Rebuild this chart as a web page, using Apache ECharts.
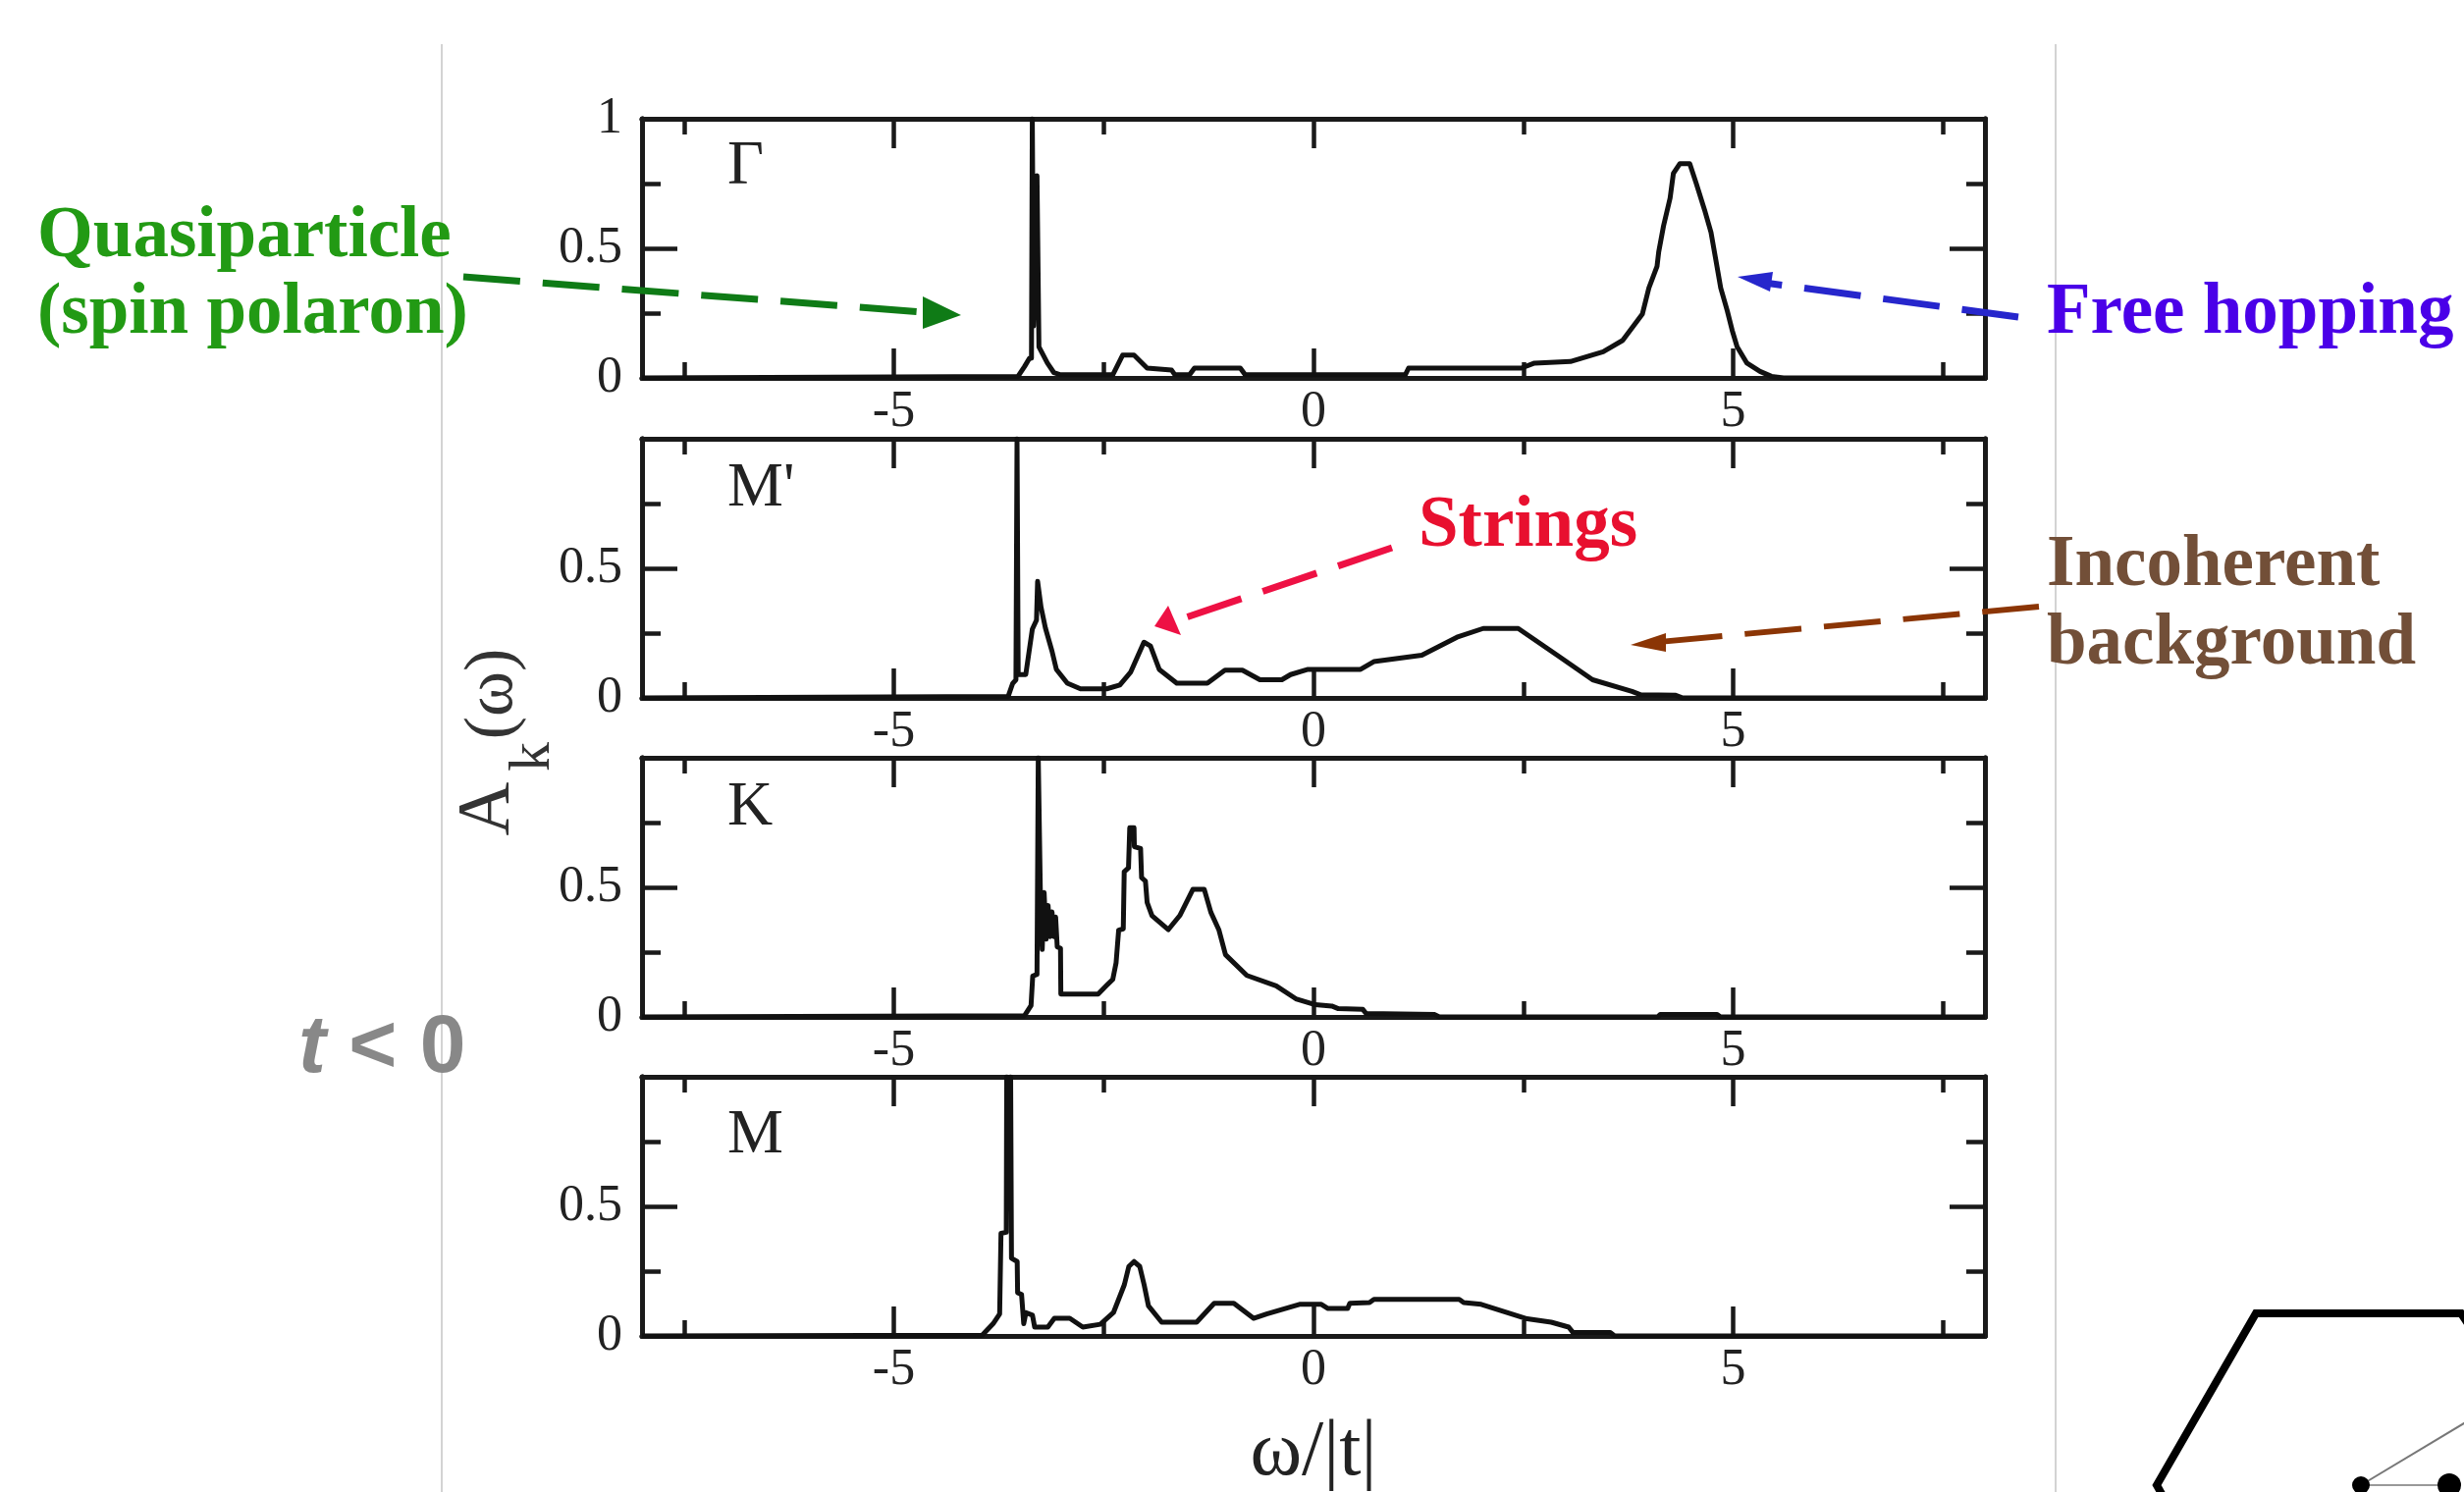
<!DOCTYPE html>
<html>
<head>
<meta charset="utf-8">
<style>html,body{margin:0;padding:0;background:#fff}#c{width:2510px;height:1520px}</style>
<script src="https://cdn.jsdelivr.net/npm/echarts@6/dist/echarts.min.js"></script>
</head>
<body>
<div id="c"></div>
<script>
// ---- data: [omega/|t|, A_k(omega)] ----
var gammaCurve = [[-8,0],[-3.52,0.006],[-3.442,0.044],[-3.384,0.076],[-3.36,0.076],[-3.35,1],[-3.335,0.2],[-3.294,0.78],[-3.28,0.78],[-3.271,0.12],[-3.17,0.057],[-3.092,0.02],[-3.014,0.012],[-2.391,0.012],[-2.274,0.088],[-2.138,0.088],[-1.982,0.038],[-1.69,0.03],[-1.651,0.012],[-1.476,0.012],[-1.418,0.038],[-0.872,0.038],[-0.814,0.012],[1.094,0.012],[1.133,0.038],[2.477,0.038],[2.633,0.057],[3.061,0.063],[3.451,0.101],[3.684,0.145],[3.918,0.246],[3.996,0.347],[4.093,0.43],[4.113,0.486],[4.171,0.587],[4.249,0.694],[4.288,0.789],[4.366,0.827],[4.483,0.827],[4.56,0.751],[4.658,0.65],[4.736,0.562],[4.794,0.455],[4.852,0.347],[4.93,0.259],[4.989,0.183],[5.047,0.12],[5.164,0.057],[5.32,0.025],[5.456,0.006],[5.6,0],[8,0]];
var mPrimeCurve = [[-8,0],[-3.637,0.006],[-3.585,0.055],[-3.545,0.07],[-3.532,1],[-3.518,0.09],[-3.428,0.09],[-3.35,0.265],[-3.3,0.3],[-3.287,0.45],[-3.246,0.35],[-3.194,0.27],[-3.115,0.18],[-3.063,0.11],[-2.933,0.057],[-2.776,0.035],[-2.463,0.035],[-2.307,0.05],[-2.177,0.1],[-2.02,0.215],[-1.942,0.2],[-1.838,0.11],[-1.629,0.057],[-1.264,0.057],[-1.055,0.107],[-0.847,0.107],[-0.638,0.07],[-0.377,0.07],[-0.273,0.09],[-0.065,0.11],[0.561,0.11],[0.718,0.14],[1.291,0.165],[1.709,0.234],[2.022,0.268],[2.439,0.268],[2.908,0.164],[3.325,0.07],[3.795,0.025],[3.899,0.012],[4.316,0.01],[4.4,0],[8,0]];
var kCurve = [[-8,0],[-3.442,0.005],[-3.365,0.044],[-3.345,0.158],[-3.294,0.164],[-3.279,1],[-3.255,0.5],[-3.232,0.26],[-3.209,0.48],[-3.185,0.3],[-3.162,0.43],[-3.139,0.31],[-3.115,0.405],[-3.092,0.31],[-3.072,0.385],[-3.053,0.27],[-3.014,0.265],[-3.01,0.088],[-2.566,0.088],[-2.469,0.12],[-2.391,0.145],[-2.352,0.208],[-2.321,0.335],[-2.266,0.34],[-2.255,0.56],[-2.204,0.575],[-2.189,0.73],[-2.138,0.73],[-2.134,0.657],[-2.06,0.65],[-2.048,0.537],[-2.002,0.524],[-1.982,0.442],[-1.924,0.391],[-1.729,0.337],[-1.593,0.391],[-1.437,0.492],[-1.301,0.492],[-1.223,0.404],[-1.126,0.335],[-1.048,0.24],[-0.794,0.16],[-0.444,0.12],[-0.21,0.07],[0.023,0.047],[0.218,0.042],[0.296,0.032],[0.588,0.029],[0.627,0.013],[1.445,0.009],[1.5,0],[4.1,0],[4.13,0.009],[4.81,0.009],[4.85,0],[8,0]];
var mCurve = [[-8,0],[-3.947,0.003],[-3.817,0.047],[-3.739,0.085],[-3.723,0.396],[-3.66,0.4],[-3.655,1],[-3.629,0.6],[-3.608,1],[-3.598,0.3],[-3.53,0.287],[-3.525,0.167],[-3.478,0.16],[-3.452,0.047],[-3.426,0.09],[-3.348,0.08],[-3.322,0.034],[-3.165,0.034],[-3.087,0.068],[-2.904,0.068],[-2.748,0.034],[-2.539,0.045],[-2.383,0.09],[-2.253,0.198],[-2.2,0.268],[-2.138,0.287],[-2.07,0.268],[-2.018,0.198],[-1.966,0.116],[-1.809,0.053],[-1.392,0.053],[-1.183,0.126],[-0.949,0.126],[-0.714,0.068],[-0.558,0.085],[-0.167,0.122],[0.094,0.122],[0.173,0.106],[0.407,0.106],[0.433,0.126],[0.668,0.129],[0.72,0.141],[1.737,0.141],[1.789,0.129],[1.998,0.122],[2.545,0.066],[2.832,0.053],[3.041,0.034],[3.093,0.013],[3.536,0.013],[3.588,0],[8,0]];

var panelNames = ['Γ', "M'", 'K', 'M'];
var panelCurves = [gammaCurve, mPrimeCurve, kCurve, mCurve];
var xMajorTicks = [-5, 0, 5];
var xMinorTicks = [-7.5, -2.5, 2.5, 7.5];
var yMajorTicks = [0.5];
var yMinorTicks = [0.25, 0.75];
var yLabelSets = [[0, 0.5, 1], [0, 0.5], [0, 0.5], [0, 0.5]];
var xAxisTitle = 'ω/|t|';

// ---- layout ----
var panelTops = [121, 447, 772, 1097];
var panelBaselines = [192, 520, 845, 1179];
var INK = '#1a1a1a', SERIF = '"Liberation Serif","Times New Roman",serif';
var grids = [], xAxes = [], yAxes = [], series = [];

function xa(grid, pos, ticks, len, labels, extra) {
  var a = {
    type: 'value', gridIndex: grid, position: pos, min: -8, max: 8, splitLine: {show: false},
    axisLine: {show: true, onZero: false, lineStyle: {color: INK, width: 5}},
    axisTick: {show: true, inside: true, length: len, customValues: ticks, lineStyle: {color: INK, width: 4.5}},
    axisLabel: labels ? {show: true, customValues: labels, margin: 9, color: '#222', fontFamily: SERIF, fontSize: 52} : {show: false}
  };
  for (var k in (extra || {})) a[k] = extra[k];
  return a;
}
function ya(grid, pos, ticks, len, labels) {
  return {
    type: 'value', gridIndex: grid, position: pos, min: 0, max: 1, splitLine: {show: false},
    axisLine: {show: true, onZero: false, lineStyle: {color: INK, width: 5}},
    axisTick: {show: true, inside: true, length: len, customValues: ticks, lineStyle: {color: INK, width: 4.5}},
    axisLabel: labels ? {show: true, customValues: labels, margin: 20, color: '#222', fontFamily: SERIF, fontSize: 52} : {show: false}
  };
}
panelCurves.forEach(function (curve, i) {
  grids.push({left: 654, top: panelTops[i], width: 1368, height: 264, containLabel: false, outerBoundsMode: 'none'});
  var extra = i === 3 ? {name: xAxisTitle, nameLocation: 'middle', nameGap: 80,
    nameTextStyle: {fontFamily: SERIF, fontSize: 80, color: '#222'}} : null;
  xAxes.push(xa(i, 'bottom', xMajorTicks, 30, xMajorTicks, extra), xa(i, 'bottom', xMinorTicks, 16),
             xa(i, 'top', xMajorTicks, 30), xa(i, 'top', xMinorTicks, 16));
  yAxes.push(ya(i, 'left', yMajorTicks, 36, yLabelSets[i]), ya(i, 'left', yMinorTicks, 19),
             ya(i, 'right', yMajorTicks, 36), ya(i, 'right', yMinorTicks, 19));
  series.push({
    name: panelNames[i], type: 'line', xAxisIndex: i * 4, yAxisIndex: i * 4, data: curve,
    showSymbol: false, symbol: 'none', clip: true, animation: false, z: 5,
    lineStyle: {color: '#111', width: 5, join: 'round'}
  });
});

// ---- annotation helpers ----
function txt(t, x, baseline, size, color, weight, family) {
  return {type: 'text', z: 20, x: x, y: baseline - 0.3375 * size, style: {
    text: t, fontFamily: family || SERIF, fontSize: size, fontWeight: weight || 'normal', fill: color,
    textAlign: 'left', textVerticalAlign: 'middle', align: 'left', verticalAlign: 'middle'}};
}
function rot(t, cx, cy, size, color) {
  return {type: 'text', z: 20, x: cx, y: cy, rotation: Math.PI / 2, style: {
    text: t, fontFamily: SERIF, fontSize: size, fill: color,
    textAlign: 'center', textVerticalAlign: 'middle', align: 'center', verticalAlign: 'middle'}};
}
function arrow(x1, y1, x2, y2, head, color, w) {
  return [
    {type: 'line', z: 15, shape: {x1: x1, y1: y1, x2: x2, y2: y2},
     style: {stroke: color, lineWidth: w, lineDash: [58, 23]}},
    {type: 'polygon', z: 15, shape: {points: head}, style: {fill: color}}
  ];
}
function vline(x) {
  return {type: 'line', z: 0, shape: {x1: x, y1: 45, x2: x, y2: 1520}, style: {stroke: '#c4c4c4', lineWidth: 1.5}};
}
var graphics = [vline(450), vline(2094)];
panelNames.forEach(function (n, i) { graphics.push(txt(n, 741, panelBaselines[i], 64, '#222')); });
graphics.push(
  txt('Quasiparticle', 38, 267, 73, '#229A14', 'bold'),
  txt('(spin polaron)', 38, 345, 73, '#229A14', 'bold'),
  txt('Free hopping', 2085, 345, 73, '#4A00E8', 'bold'),
  txt('Strings', 1445, 562, 73, '#E8102F', 'bold'),
  txt('Incoherent', 2085, 602, 73, '#724F38', 'bold'),
  txt('background', 2085, 682, 73, '#724F38', 'bold'),
  {type: 'text', z: 20, x: 304, y: 1098 - 0.35 * 84, style: {
    text: '{i|t} < 0', fontFamily: '"Liberation Sans",Arial,sans-serif', fontSize: 84, fontWeight: 'bold', fill: '#888',
    textAlign: 'left', textVerticalAlign: 'middle', align: 'left', verticalAlign: 'middle',
    rich: {i: {fontStyle: 'italic', fontWeight: 'bold', fontSize: 84, fontFamily: '"Liberation Sans",Arial,sans-serif', fill: '#888'}}}},
  rot('A', 498, 824, 76, '#333'),
  rot('k', 543, 771, 60, '#333'),
  rot('(ω)', 503, 707, 70, '#333')
);
graphics = graphics.concat(
  arrow(472, 282, 940, 318, [[940, 302], [979, 321], [940, 335]], '#0F7B16', 7),
  arrow(2056, 323, 1790, 287, [[1770, 282], [1806, 277], [1803, 297]], '#2626CC', 7),
  arrow(1418, 558, 1205, 630, [[1176, 638], [1190, 617], [1203, 647]], '#EE1144', 7),
  arrow(2077, 618, 1690, 654, [[1661, 657], [1697, 645], [1697, 664]], '#8B3505', 6)
);
// Brillouin-zone inset, cropped by the page corner
graphics.push(
  {type: 'polyline', z: 10, shape: {points: [[2215, 1545], [2197, 1513], [2298, 1338], [2507, 1338], [2535, 1380]]},
   style: {stroke: '#000', lineWidth: 8, fill: null}},
  {type: 'line', z: 10, shape: {x1: 2405, y1: 1513, x2: 2520, y2: 1444}, style: {stroke: '#777', lineWidth: 2}},
  {type: 'line', z: 10, shape: {x1: 2405, y1: 1513, x2: 2495, y2: 1513}, style: {stroke: '#999', lineWidth: 2}},
  {type: 'circle', z: 11, shape: {cx: 2405, cy: 1513, r: 9}, style: {fill: '#000'}},
  {type: 'circle', z: 11, shape: {cx: 2495, cy: 1513, r: 12}, style: {fill: '#000'}}
);

var chart = echarts.init(document.getElementById('c'), null, {renderer: 'canvas', width: 2510, height: 1520});
chart.setOption({
  animation: false, backgroundColor: '#fff',
  grid: grids, xAxis: xAxes, yAxis: yAxes, series: series, graphic: {elements: graphics}
});
</script>
</body>
</html>
